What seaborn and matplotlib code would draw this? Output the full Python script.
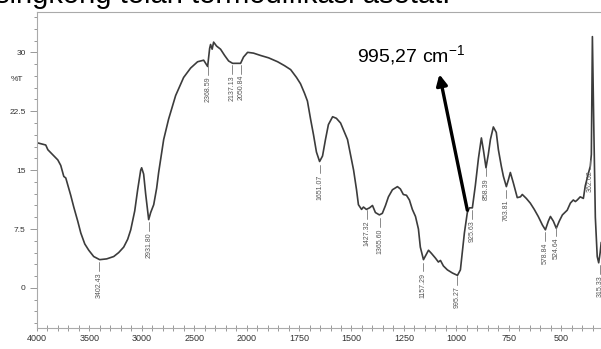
import numpy as np
import seaborn as sns
import matplotlib.pyplot as plt
from matplotlib.ticker import FixedLocator

# FTIR spectrum: wavenumber (cm-1) and %T
wavenumber = [4000, 3914, 3894, 3799, 3771, 3742, 3723, 3676, 3647, 3609,
              3580, 3542, 3504, 3457, 3400, 3333, 3266, 3219, 3171, 3133,
              3104, 3066, 3038, 3009, 3000, 2981, 2962, 2933, 2914, 2885,
              2857, 2838, 2790, 2743, 2676, 2600, 2533, 2467, 2409, 2390,
              2371, 2352, 2343, 2328, 2314, 2286, 2248, 2209, 2171, 2133,
              2095, 2057, 2029, 1995, 1967, 1933, 1895, 1852, 1819, 1790,
              1762, 1743, 1724, 1710, 1695, 1681, 1667, 1652, 1638, 1624,
              1610, 1590, 1572, 1552, 1533, 1519, 1505, 1490, 1476, 1467,
              1452, 1443, 1429, 1414, 1400, 1386, 1367, 1353, 1338, 1324,
              1305, 1281, 1267, 1253, 1238, 1224, 1210, 1195, 1181, 1172,
              1157, 1143, 1133, 1119, 1100, 1086, 1076, 1062, 1043, 1019,
              995, 981, 972, 962, 948, 938, 924, 910, 895, 881,
              871, 859, 848, 838, 824, 810, 800, 786, 776, 762,
              752, 743, 729, 710, 695, 686, 667, 648, 629, 610,
              590, 576, 562, 552, 538, 524, 510, 495, 472, 457,
              443, 433, 424, 410, 395, 386, 371, 362, 357, 352,
              345, 338, 329, 322, 315, 310]
transmittance = [18.5, 18.2, 17.6, 16.3, 15.6, 14.2, 14.0, 11.8, 10.3, 8.5,
                 7.0, 5.6, 4.8, 4.0, 3.6, 3.7, 4.0, 4.5, 5.2, 6.2,
                 7.4, 9.8, 12.5, 15.0, 15.3, 14.5, 12.0, 8.7, 9.6, 10.6,
                 12.7, 14.7, 18.9, 21.5, 24.5, 26.8, 28.0, 28.8, 29.0, 28.6,
                 28.2, 30.5, 31.0, 30.4, 31.3, 30.8, 30.4, 29.6, 28.9, 28.6,
                 28.6, 28.6, 29.4, 30.0, 29.9, 29.6, 29.3, 28.8, 28.3, 27.8,
                 26.8, 26.0, 24.8, 23.8, 21.5, 19.5, 17.3, 16.1, 16.8, 18.9,
                 20.8, 21.8, 21.6, 21.0, 19.8, 18.9, 17.0, 15.0, 12.5, 10.6,
                 10.0, 10.3, 10.0, 10.2, 10.5, 9.6, 9.3, 9.5, 10.5, 11.6,
                 12.5, 12.9, 12.6, 11.9, 11.8, 11.2, 10.0, 9.1, 7.5, 5.2,
                 3.6, 4.3, 4.8, 4.4, 3.8, 3.3, 3.5, 2.8, 2.3, 1.9,
                 1.6, 2.3, 4.5, 7.0, 9.6, 10.2, 10.2, 13.0, 16.5, 19.1,
                 17.5, 15.3, 17.0, 18.9, 20.5, 19.8, 17.6, 15.5, 14.2, 12.9,
                 13.8, 14.7, 13.4, 11.5, 11.6, 11.9, 11.4, 10.8, 10.0, 9.1,
                 8.0, 7.4, 8.5, 9.1, 8.5, 7.6, 8.5, 9.3, 9.9, 10.8,
                 11.2, 11.0, 11.2, 11.6, 11.4, 13.0, 14.6, 15.5, 17.0, 32.0,
                 20.0, 9.0, 4.0, 3.2, 4.5, 5.8]

# peak labels and the %T where their leader line starts
peak_wn = [3402.43, 2931.80, 2368.59, 2137.13, 2050.84, 1651.07, 1427.32,
           1365.60, 1157.29, 995.27, 925.63, 858.39, 763.81, 578.84,
           524.64, 362.62, 315.33]
peak_top = [3.3, 8.4, 28.2, 28.4, 28.4, 15.7, 9.9,
            8.9, 3.2, 1.5, 9.9, 15.3, 12.5, 7.1,
            7.7, 16.3, 2.9]

major_x = [4000, 3500, 3000, 2500, 2000, 1750, 1500, 1250, 1000, 750, 500]
major_y = [0, 7.5, 15, 22.5, 30]
ytick_labels = ['0', '7.5', '15', '22.5', '30']

sns.set_style('white')
plt.rcParams['font.family'] = ['Liberation Sans', 'DejaVu Sans']
plt.rcParams['mathtext.fontset'] = 'custom'
plt.rcParams['mathtext.rm'] = 'Liberation Sans'


def fwd(x):
    x = np.asarray(x, dtype=float)
    return np.where(x > 2000, 2000 + (x - 2000) / 2, x)


def inv(x):
    x = np.asarray(x, dtype=float)
    return np.where(x > 2000, 2000 + (x - 2000) * 2, x)


fig = plt.figure(figsize=(6.01, 3.49), dpi=100)
ax = fig.add_axes([0.0611, 0.0602, 0.9389, 0.9046])
ax.set_xscale('function', functions=(fwd, inv))

sns.lineplot(x=wavenumber, y=transmittance, ax=ax, color='#3c3c3c', lw=1.2)

ax.set_xlim(4000, 311)
ax.set_ylim(-5.1, 35.1)

ax.xaxis.set_major_locator(FixedLocator(major_x))
minor_x = list(range(3900, 2000, -100)) + list(range(1950, 300, -50))
ax.xaxis.set_minor_locator(FixedLocator(minor_x))
ax.set_xticklabels([str(v) for v in major_x])
ax.yaxis.set_major_locator(FixedLocator(major_y))
ax.yaxis.set_minor_locator(FixedLocator(np.arange(-4.5, 35, 1.5)))
ax.set_yticklabels(ytick_labels)

ax.tick_params(axis='x', which='both', direction='inout', colors='#888',
               labelcolor='#333', labelsize=6.5, pad=2)
ax.tick_params(axis='x', which='major', length=5, width=0.6)
ax.tick_params(axis='x', which='minor', length=4, width=0.6)
ax.tick_params(axis='y', which='both', direction='out', colors='#888',
               labelcolor='#333', labelsize=6, pad=3)
ax.tick_params(axis='y', which='major', length=5, width=0.6)
ax.tick_params(axis='y', which='minor', length=2.5, width=0.6)
ax.xaxis.set_ticks_position('bottom')
ax.yaxis.set_ticks_position('left')

for side in ['left', 'bottom', 'top']:
    ax.spines[side].set_color('#aaa')
    ax.spines[side].set_linewidth(0.8)
ax.spines['right'].set_visible(False)
ax.set_xlabel('')
ax.set_ylabel('')

# peak annotations
for wn, top in zip(peak_wn, peak_top):
    ax.plot([wn, wn], [top, top - 1.1], color='#777', lw=0.6)
    ax.text(wn, top - 1.3, f'{wn:.2f}', rotation=90, ha='center', va='top',
            fontsize=5, color='#555')

fig.text(0.028, 0.771, '%T', fontsize=6, color='#333', ha='center', va='center')

# highlighted band
ax.annotate('', xy=(1081, 27.2), xytext=(948, 9.9),
            arrowprops=dict(arrowstyle='-|>', lw=2.4, color='black',
                            mutation_scale=16, shrinkA=0, shrinkB=0))
ax.text(1472, 28.7, r'995,27 cm$^{\mathregular{-1}}$', fontsize=14,
        ha='left', va='baseline', color='black')

# caption line cut off at the top of the picture
fig.text(-0.008, 1 - 3 / 349, 'singkong telah termodifikasi asetat.',
         fontsize=21, ha='left', va='baseline', color='black')

fig.savefig('out.png', dpi=100)
